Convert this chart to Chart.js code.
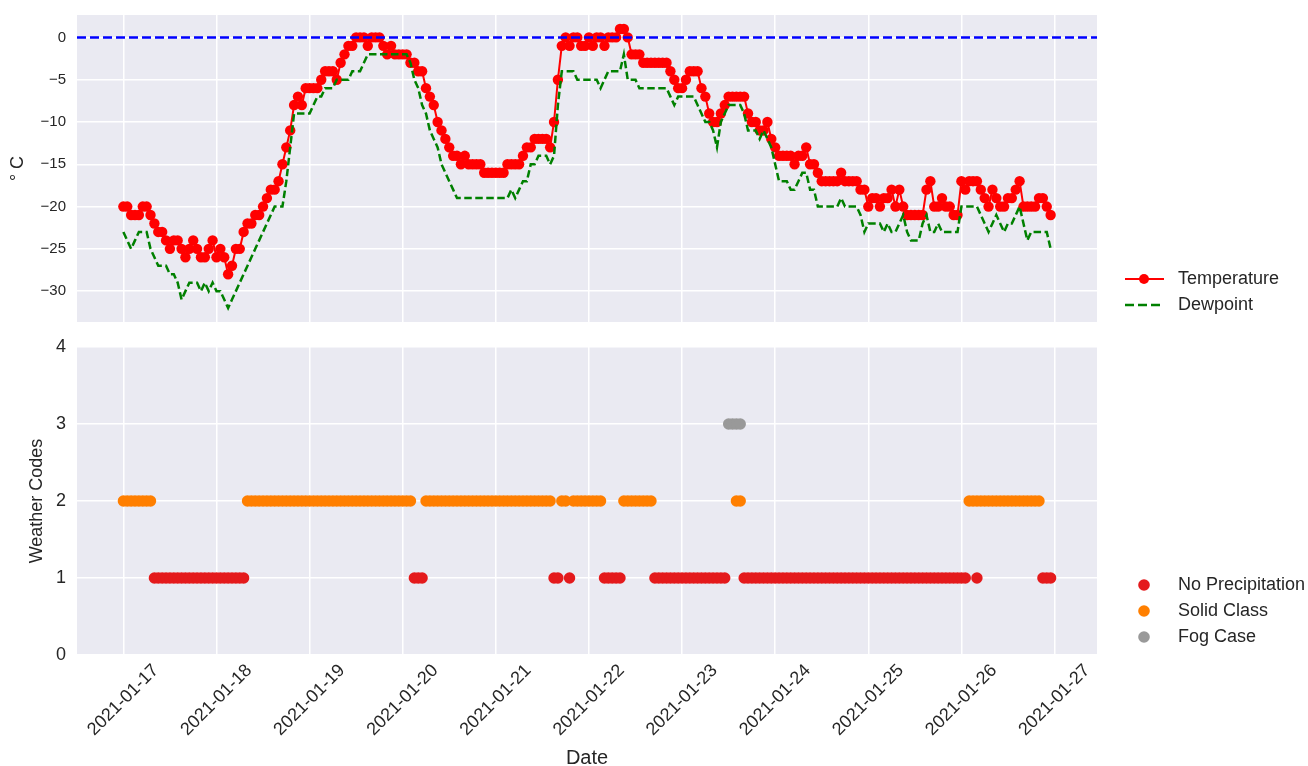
<!DOCTYPE html>
<html>
<head>
<meta charset="utf-8">
<script src="https://cdn.jsdelivr.net/npm/chart.js@4.4.1/dist/chart.umd.min.js"></script>
<style>
  html, body { margin: 0; padding: 0; background: #ffffff; overflow: hidden; }
  #wrap { position: relative; width: 1308px; height: 766px; overflow: hidden; }
  canvas { position: absolute; left: 0; }
  #tempChart { top: 0; }
  #codeChart { top: 335px; }
</style>
</head>
<body>
<div id="wrap">
  <canvas id="tempChart" width="1308" height="335"></canvas>
  <canvas id="codeChart" width="1308" height="440"></canvas>
</div>
<script>
// hourly observations starting 2021-01-17 00:00
const dateLabels = ['2021-01-17', '2021-01-18', '2021-01-19', '2021-01-20', '2021-01-21', '2021-01-22',
                    '2021-01-23', '2021-01-24', '2021-01-25', '2021-01-26', '2021-01-27'];

const temperature = [
  -20,-20,-21,-21,-21,-20,-20,-21,-22,-23,-23,-24,-25,-24,-24,-25,-26,-25,-24,-25,-26,-26,-25,-24,
  -26,-25,-26,-28,-27,-25,-25,-23,-22,-22,-21,-21,-20,-19,-18,-18,-17,-15,-13,-11,-8,-7,-8,-6,
  -6,-6,-6,-5,-4,-4,-4,-5,-3,-2,-1,-1,0,0,0,-1,0,0,0,-1,-2,-1,-2,-2,
  -2,-2,-3,-3,-4,-4,-6,-7,-8,-10,-11,-12,-13,-14,-14,-15,-14,-15,-15,-15,-15,-16,-16,-16,
  -16,-16,-16,-15,-15,-15,-15,-14,-13,-13,-12,-12,-12,-12,-13,-10,-5,-1,0,-1,0,0,-1,-1,
  0,-1,0,0,-1,0,0,0,1,1,0,-2,-2,-2,-3,-3,-3,-3,-3,-3,-3,-4,-5,-6,
  -6,-5,-4,-4,-4,-6,-7,-9,-10,-10,-9,-8,-7,-7,-7,-7,-7,-9,-10,-10,-11,-11,-10,-12,
  -13,-14,-14,-14,-14,-15,-14,-14,-13,-15,-15,-16,-17,-17,-17,-17,-17,-16,-17,-17,-17,-17,-18,-18,
  -20,-19,-19,-20,-19,-19,-18,-20,-18,-20,-21,-21,-21,-21,-21,-18,-17,-20,-20,-19,-20,-20,-21,-21,
  -17,-18,-17,-17,-17,-18,-19,-20,-18,-19,-20,-20,-19,-19,-18,-17,-20,-20,-20,-20,-19,-19,-20,-21
];

const dewpoint = [
  -23,-24,-25,-24,-23,-23,-23,-25,-26,-27,-27,-27,-28,-28,-29,-31,-30,-29,-29,-29,-30,-29,-30,-29,
  -30,-30,-31,-32,-31,-30,-29,-28,-27,-26,-25,-24,-23,-22,-21,-20,-20,-20,-17,-13,-9,-9,-9,-9,
  -9,-8,-7,-7,-6,-6,-6,-5,-5,-5,-5,-4,-4,-4,-3,-2,-2,-2,-2,-2,-2,-2,-2,-2,
  -2,-2,-3,-5,-6,-8,-9,-11,-12,-13,-15,-16,-17,-18,-19,-19,-19,-19,-19,-19,-19,-19,-19,-19,
  -19,-19,-19,-19,-18,-19,-18,-17,-17,-15,-15,-14,-14,-14,-15,-14,-8,-4,-4,-4,-4,-5,-5,-5,
  -5,-5,-5,-6,-5,-4,-4,-4,-4,-2,-5,-5,-5,-6,-6,-6,-6,-6,-6,-6,-6,-7,-8,-7,
  -7,-7,-7,-7,-8,-9,-10,-10,-11,-13,-10,-9,-8,-8,-8,-8,-9,-11,-11,-11,-12,-11,-12,-13,
  -15,-17,-17,-17,-18,-18,-17,-16,-16,-18,-18,-20,-20,-20,-20,-20,-20,-19,-20,-20,-20,-20,-21,-23,
  -22,-22,-22,-22,-23,-22,-23,-23,-22,-21,-23,-24,-24,-24,-22,-21,-23,-23,-22,-23,-23,-23,-23,-23,
  -20,-20,-20,-20,-20,-21,-22,-23,-22,-21,-22,-23,-22,-22,-21,-20,-22,-24,-23,-23,-23,-23,-23,-25
];

// 1 = no precipitation, 2 = solid class, 3 = fog case
const weatherCode = [
  2,2,2,2,2,2,2,2,1,1,1,1,1,1,1,1,1,1,1,1,1,1,1,1,
  1,1,1,1,1,1,1,1,2,2,2,2,2,2,2,2,2,2,2,2,2,2,2,2,
  2,2,2,2,2,2,2,2,2,2,2,2,2,2,2,2,2,2,2,2,2,2,2,2,
  2,2,2,1,1,1,2,2,2,2,2,2,2,2,2,2,2,2,2,2,2,2,2,2,
  2,2,2,2,2,2,2,2,2,2,2,2,2,2,2,1,1,2,2,1,2,2,2,2,
  2,2,2,2,1,1,1,1,1,2,2,2,2,2,2,2,2,1,1,1,1,1,1,1,
  1,1,1,1,1,1,1,1,1,1,1,1,3,3,3,3,1,1,1,1,1,1,1,1,
  1,1,1,1,1,1,1,1,1,1,1,1,1,1,1,1,1,1,1,1,1,1,1,1,
  1,1,1,1,1,1,1,1,1,1,1,1,1,1,1,1,1,1,1,1,1,1,1,1,
  1,1,2,2,2,2,2,2,2,2,2,2,2,2,2,2,2,2,2,2,2,1,1,1
];
// a few hours carry a second code
const extraCodeHours = [158, 159, 220];
const extraCodeValues = [2, 2, 1];

const codeClasses = ['No Precipitation', 'Solid Class', 'Fog Case'];
const codeColors = ['#e41a1c', '#ff7f00', '#999999'];
const tempTicks = [0, -5, -10, -15, -20, -25, -30];
const codeTicks = [0, 1, 2, 3, 4];
const freezingPoint = 0;

const FONT = '"Liberation Sans", Arial, sans-serif';
const TEXT = '#262626';
Chart.defaults.font.family = FONT;
Chart.defaults.color = TEXT;

const hours = temperature.map((_, i) => i);
const xMin = -11.95, xMax = 250.95;

const minusSign = v => String(v).replace('-', '\u2212');

// fixed gutter on the left, no label overhang padding
const fixLeftAxis = s => { s.width = 77; s.paddingTop = 0; s.paddingBottom = 0; };

function dayAxis() {
  return {
    type: 'linear',
    min: xMin,
    max: xMax,
    afterBuildTicks: scale => { scale.ticks = dateLabels.map((d, i) => ({ value: i * 24 })); },
    ticks: { display: false },
    grid: { color: '#ffffff', lineWidth: 1.5, drawTicks: false },
    border: { display: false }
  };
}

const panelBackground = {
  id: 'panelBackground',
  beforeDraw(chart) {
    const { ctx, chartArea: a } = chart;
    ctx.save();
    ctx.fillStyle = '#eaeaf2';
    ctx.fillRect(a.left, a.top, a.width, a.height);
    ctx.restore();
  }
};

const freezingLine = {
  id: 'freezingLine',
  afterDatasetsDraw(chart) {
    const { ctx, chartArea: a, scales: { y } } = chart;
    const py = y.getPixelForValue(freezingPoint);
    ctx.save();
    ctx.strokeStyle = '#0000ff';
    ctx.lineWidth = 2.5;
    ctx.setLineDash([9, 4]);
    ctx.beginPath();
    ctx.moveTo(a.left, py);
    ctx.lineTo(a.right, py);
    ctx.stroke();
    ctx.restore();
  }
};

// matplotlib-like rotated labels, centred under the tick
const dateTickLabels = {
  id: 'dateTickLabels',
  afterDraw(chart) {
    const { ctx, chartArea: a, scales: { x } } = chart;
    ctx.save();
    ctx.font = '18px ' + FONT;
    ctx.fillStyle = TEXT;
    ctx.textAlign = 'center';
    ctx.textBaseline = 'middle';
    dateLabels.forEach((label, i) => {
      const px = x.getPixelForValue(i * 24);
      const ext = (ctx.measureText(label).width + 16) * Math.SQRT1_2;
      ctx.save();
      ctx.translate(px, a.bottom + 7 + ext / 2);
      ctx.rotate(-Math.PI / 4);
      ctx.fillText(label, 0, 0);
      ctx.restore();
    });
    ctx.restore();
  }
};

function sideLegend(items) {
  return {
    id: 'sideLegend',
    afterDraw(chart) {
      const ctx = chart.ctx;
      ctx.save();
      ctx.font = '18px ' + FONT;
      ctx.textBaseline = 'middle';
      ctx.textAlign = 'left';
      items.forEach(it => {
        ctx.strokeStyle = it.color;
        ctx.fillStyle = it.color;
        if (it.kind === 'line' || it.kind === 'dash') {
          ctx.lineWidth = it.kind === 'line' ? 2 : 2.5;
          ctx.setLineDash(it.kind === 'dash' ? [9, 4] : []);
          ctx.beginPath();
          ctx.moveTo(1125, it.y);
          ctx.lineTo(1164, it.y);
          ctx.stroke();
          ctx.setLineDash([]);
        }
        if (it.kind === 'line' || it.kind === 'dot') {
          ctx.beginPath();
          ctx.arc(1144, it.y, it.r, 0, Math.PI * 2);
          ctx.fill();
        }
        ctx.fillStyle = TEXT;
        ctx.fillText(it.label, 1178, it.y);
      });
      ctx.restore();
    }
  };
}

// top panel: temperature and dewpoint
new Chart(document.getElementById('tempChart'), {
  type: 'line',
  data: {
    datasets: [
      {
        label: 'Temperature',
        data: hours.map(h => ({ x: h, y: temperature[h] })),
        borderColor: '#ff0000',
        backgroundColor: '#ff0000',
        borderWidth: 2,
        pointRadius: 5.2,
        pointBorderWidth: 0,
        pointHoverRadius: 0,
        order: 1
      },
      {
        label: 'Dewpoint',
        data: hours.map(h => ({ x: h, y: dewpoint[h] })),
        borderColor: '#008000',
        borderWidth: 2.5,
        borderDash: [7.5, 3.5],
        pointRadius: 0,
        order: 0
      }
    ]
  },
  options: {
    responsive: false,
    animation: false,
    devicePixelRatio: 1,
    layout: { autoPadding: false, padding: { left: 0, right: 211, top: 15, bottom: 13 } },
    plugins: { legend: { display: false }, tooltip: { enabled: false } },
    scales: {
      x: Object.assign(dayAxis(), { afterFit: s => { s.height = 0; } }),
      y: {
        min: -33.65,
        max: 2.65,
        afterBuildTicks: scale => { scale.ticks = tempTicks.map(v => ({ value: v })); },
        afterFit: fixLeftAxis,
        ticks: { font: { size: 15 }, color: TEXT, padding: 11, callback: minusSign },
        grid: { color: '#ffffff', lineWidth: 1.5, drawTicks: false },
        border: { display: false },
        title: { display: true, text: '\u00b0 C', font: { size: 18 }, color: TEXT, padding: { top: 7, bottom: 0 } }
      }
    }
  },
  plugins: [panelBackground, freezingLine, sideLegend([
    { label: 'Temperature', color: '#ff0000', kind: 'line', y: 279, r: 5 },
    { label: 'Dewpoint', color: '#008000', kind: 'dash', y: 305 }
  ])]
});

// bottom panel: weather codes
const codeSeries = codeClasses.map((name, k) => {
  const code = k + 1;
  const pts = [];
  weatherCode.forEach((c, h) => { if (c === code) pts.push({ x: h, y: c }); });
  extraCodeHours.forEach((h, j) => { if (extraCodeValues[j] === code) pts.push({ x: h, y: code }); });
  return {
    label: name,
    data: pts,
    backgroundColor: codeColors[k],
    borderWidth: 0,
    pointRadius: 5.7,
    pointHoverRadius: 0
  };
});

new Chart(document.getElementById('codeChart'), {
  type: 'scatter',
  data: { datasets: codeSeries },
  options: {
    responsive: false,
    animation: false,
    devicePixelRatio: 1,
    layout: { autoPadding: false, padding: { left: 0, right: 211, top: 12, bottom: 0 } },
    plugins: { legend: { display: false }, tooltip: { enabled: false } },
    scales: {
      x: Object.assign(dayAxis(), {
        afterFit: s => { s.height = 120; },
        title: { display: true, text: 'Date', font: { size: 20 }, color: TEXT, padding: { top: 0, bottom: 5 } }
      }),
      y: {
        min: 0,
        max: 4,
        afterBuildTicks: scale => { scale.ticks = codeTicks.map(v => ({ value: v })); },
        afterFit: fixLeftAxis,
        ticks: { font: { size: 18 }, color: TEXT, padding: 11 },
        grid: { color: '#ffffff', lineWidth: 1.5, drawTicks: false },
        border: { display: false },
        title: { display: true, text: 'Weather Codes', font: { size: 18 }, color: TEXT, padding: { top: 26, bottom: 0 } }
      }
    }
  },
  plugins: [panelBackground, dateTickLabels, sideLegend(
    codeClasses.map((name, k) => ({ label: name, color: codeColors[k], kind: 'dot', y: 250 + k * 26, r: 5.8 }))
  )]
});
</script>
</body>
</html>
